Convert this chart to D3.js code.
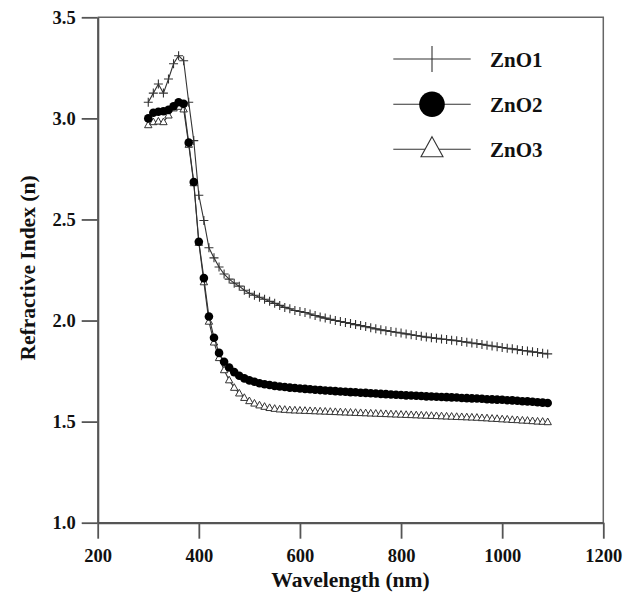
<!DOCTYPE html>
<html>
<head>
<meta charset="utf-8">
<script src="https://cdn.jsdelivr.net/npm/d3@7"></script>
<style>
  html, body { margin: 0; padding: 0; background: #fff; }
  svg { display: block; }
  text { font-family: "Liberation Serif", "Times New Roman", serif; font-weight: bold; fill: #111; }
</style>
</head>
<body>
<svg id="chart" width="632" height="593"></svg>
<script>
// ---------- DATA ----------
const wavelengths = [300,310,320,330,340,350,360,370,380,390,400,410,420,430,440,450,460,470,480,490,
  500,510,520,530,540,550,560,570,580,590,600,610,620,630,640,650,660,670,680,690,
  700,710,720,730,740,750,760,770,780,790,800,810,820,830,840,850,860,870,880,890,
  900,910,920,930,940,950,960,970,980,990,1000,1010,1020,1030,1040,1050,1060,1070,1080,1090];

const zno1 = [3.08,3.125,3.17,3.125,3.195,3.27,3.31,3.285,3.08,2.89,2.62,2.495,2.36,2.31,2.265,2.23,2.205,2.185,2.17,2.15,
  2.135,2.125,2.115,2.105,2.095,2.085,2.075,2.065,2.058,2.05,2.045,2.04,2.032,2.025,2.018,2.012,2.006,2.0,1.995,1.99,
  1.985,1.98,1.975,1.97,1.964,1.959,1.954,1.95,1.946,1.942,1.938,1.934,1.93,1.926,1.922,1.918,1.915,1.912,1.909,1.906,
  1.903,1.9,1.896,1.893,1.889,1.886,1.882,1.878,1.874,1.87,1.867,1.863,1.86,1.856,1.852,1.849,1.845,1.842,1.838,1.835];

const zno2 = [3.0,3.028,3.033,3.035,3.042,3.06,3.08,3.072,2.88,2.685,2.39,2.21,2.02,1.915,1.84,1.796,1.768,1.745,1.727,1.714,
  1.704,1.697,1.69,1.685,1.681,1.677,1.674,1.671,1.668,1.666,1.664,1.662,1.66,1.658,1.656,1.654,1.653,1.651,1.649,1.648,
  1.646,1.645,1.643,1.642,1.64,1.639,1.637,1.636,1.634,1.633,1.632,1.63,1.629,1.628,1.627,1.625,1.624,1.623,1.622,1.621,
  1.62,1.619,1.617,1.616,1.615,1.614,1.613,1.611,1.61,1.609,1.608,1.606,1.605,1.603,1.601,1.6,1.598,1.596,1.594,1.592];

const zno3 = [2.967,2.982,2.985,2.982,3.015,3.05,3.058,3.045,2.87,2.68,2.385,2.19,1.995,1.892,1.815,1.755,1.705,1.668,1.64,1.618,
  1.602,1.59,1.581,1.574,1.568,1.564,1.561,1.559,1.557,1.556,1.555,1.554,1.553,1.552,1.551,1.55,1.549,1.548,1.547,1.546,
  1.545,1.544,1.543,1.542,1.541,1.54,1.539,1.538,1.537,1.536,1.535,1.534,1.533,1.532,1.531,1.53,1.529,1.528,1.527,1.526,
  1.525,1.524,1.523,1.522,1.521,1.52,1.518,1.517,1.515,1.514,1.512,1.511,1.509,1.508,1.506,1.505,1.503,1.501,1.5,1.498];

const seriesNames = ["ZnO1", "ZnO2", "ZnO3"];
const seriesMarkers = ["plus", "circle", "triangle"];
const xTicks = [200, 400, 600, 800, 1000, 1200];
const yTicks = [1.0, 1.5, 2.0, 2.5, 3.0, 3.5];
const xTitle = "Wavelength (nm)";
const yTitle = "Refractive Index (n)";

// ---------- LAYOUT ----------
const L = 97.7, R = 603.3, T = 17.3, B = 522.7;
const svg = d3.select("#chart");

const x = d3.scaleLinear().domain([200, 1200]).range([L, R]);
const y = d3.scaleLinear().domain([1.0, 3.5]).range([B, T]);

// frame (top & right)
svg.append("path")
  .attr("d", `M${L},${T}H${R}V${B}`)
  .attr("fill", "none").attr("stroke", "#666").attr("stroke-width", 1.5);

// axes
const xAxis = svg.append("g").attr("transform", `translate(0,${B})`)
  .call(d3.axisBottom(x).tickValues(xTicks).tickFormat(d3.format("d")).tickSize(16).tickSizeOuter(0).tickPadding(10));
const yAxis = svg.append("g").attr("transform", `translate(${L},0)`)
  .call(d3.axisLeft(y).tickValues(yTicks).tickFormat(d3.format(".1f")).tickSize(16).tickSizeOuter(0).tickPadding(6));

[xAxis, yAxis].forEach(g => {
  g.select(".domain").attr("stroke", "#555").attr("stroke-width", 2.2);
  g.selectAll(".tick line").attr("stroke", "#555").attr("stroke-width", 1.8);
  g.selectAll(".tick text")
    .attr("font-family", '"Liberation Serif", "Times New Roman", serif')
    .attr("font-weight", "bold").attr("font-size", 18.5).attr("fill", "#111");
});

// titles
svg.append("text").attr("x", (L + R) / 2).attr("y", 587)
  .attr("text-anchor", "middle").attr("font-size", 21.5).text(xTitle);
svg.append("text").attr("transform", `translate(35,${(T + B) / 2 - 2}) rotate(-90)`)
  .attr("text-anchor", "middle").attr("font-size", 21.5).text(yTitle);

// ---------- SERIES ----------
const allSeries = [zno1, zno2, zno3];
const line = d3.line().x(d => x(d[0])).y(d => y(d[1]));

function drawMarker(g, type, cx, cy, s) {
  if (type === "plus") {
    g.append("path").attr("d", `M${cx - s},${cy}H${cx + s}M${cx},${cy - s}V${cy + s}`)
      .attr("stroke", "#333").attr("stroke-width", 1.1).attr("fill", "none");
  } else if (type === "circle") {
    g.append("circle").attr("cx", cx).attr("cy", cy).attr("r", s).attr("fill", "#000");
  } else {
    const h = s * 1.8, w = s * 2;
    g.append("path").attr("d", `M${cx},${cy - h * 0.6}L${cx + w / 2},${cy + h * 0.4}L${cx - w / 2},${cy + h * 0.4}Z`)
      .attr("stroke", "#333").attr("stroke-width", 1).attr("fill", "#fff");
  }
}

const markerSize = { plus: 4.5, circle: 4.3, triangle: 3.7 };

// draw order: ZnO3 beneath, then ZnO1, then ZnO2 on top
[2, 0, 1].forEach(i => {
  const vals = allSeries[i];
  const pts = wavelengths.map((w, j) => [w, vals[j]]);
  const g = svg.append("g");
  g.append("path").attr("d", line(pts)).attr("fill", "none")
    .attr("stroke", "#333").attr("stroke-width", 1.1);
  pts.forEach(p => drawMarker(g, seriesMarkers[i], x(p[0]), y(p[1]), markerSize[seriesMarkers[i]]));
});

// ---------- LEGEND ----------
const legX1 = 393.3, legX2 = 470.7, legCx = 432, legTextX = 490;
const legY = [59, 104.3, 149.3];
seriesNames.forEach((name, i) => {
  const g = svg.append("g");
  g.append("line").attr("x1", legX1).attr("x2", legX2).attr("y1", legY[i]).attr("y2", legY[i])
    .attr("stroke", "#333").attr("stroke-width", 1.1);
  const type = seriesMarkers[i];
  if (type === "plus") {
    g.append("line").attr("x1", legCx).attr("x2", legCx).attr("y1", legY[i] - 13).attr("y2", legY[i] + 13)
      .attr("stroke", "#333").attr("stroke-width", 1.1);
  } else if (type === "circle") {
    g.append("circle").attr("cx", legCx).attr("cy", legY[i]).attr("r", 12.8).attr("fill", "#000");
  } else {
    g.append("path").attr("d", `M${legCx},${legY[i] - 12.6}L${legCx + 11},${legY[i] + 7.4}L${legCx - 11},${legY[i] + 7.4}Z`)
      .attr("stroke", "#333").attr("stroke-width", 1.1).attr("fill", "#fff");
  }
  g.append("text").attr("x", legTextX).attr("y", legY[i] + 7.5)
    .attr("font-size", 21).text(name);
});
</script>
</body>
</html>
